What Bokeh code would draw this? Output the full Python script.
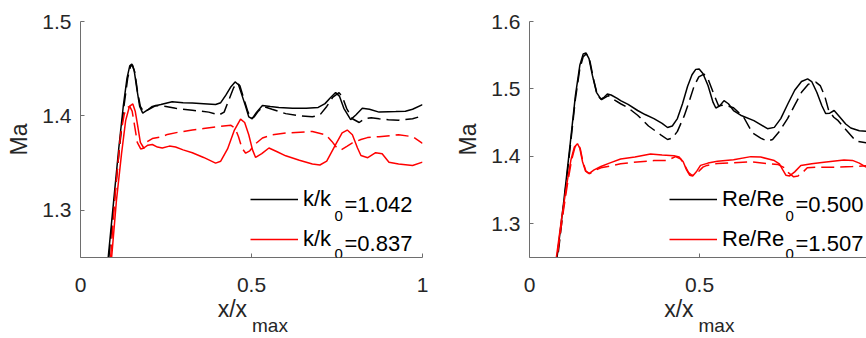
from bokeh.plotting import figure
from bokeh.models import (Range1d, FixedTicker, Legend, LegendItem, Label,
                          CustomJSTickFormatter, LinearAxis)
from bokeh.layouts import row
from bokeh.embed import file_html
from bokeh.resources import INLINE

# ---------------- data ----------------
X_TICKS = [0, 0.5, 1]
X_TICK_LABELS = ["0", "0.5", "1"]
LEFT_Y_TICKS = [1.3, 1.4, 1.5]
LEFT_Y_TICK_LABELS = ["1.3", "1.4", "1.5"]
RIGHT_Y_TICKS = [1.3, 1.4, 1.5, 1.6]
RIGHT_Y_TICK_LABELS = ["1.3", "1.4", "1.5", "1.6"]

LEFT_LEGEND = [("k/k", "0", "=1.042"), ("k/k", "0", "=0.837")]
RIGHT_LEGEND = [("Re/Re", "0", "=0.500"), ("Re/Re", "0", "=1.507")]
X_LABEL = ("x/x", "max")
Y_LABEL = "Ma"

# left panel, k/k0 = 1.042 (black), solid
L_BS_X = [0.075, 0.081, 0.097, 0.112, 0.125, 0.136, 0.144, 0.150, 0.157, 0.165, 0.173, 0.182,
          0.195, 0.21, 0.235, 0.268, 0.30, 0.327, 0.36, 0.395, 0.41, 0.425, 0.44, 0.452, 0.462,
          0.472, 0.483, 0.492, 0.502, 0.515, 0.532, 0.555, 0.58, 0.62, 0.66, 0.695, 0.715, 0.73,
          0.746, 0.757, 0.77, 0.79, 0.805, 0.824, 0.845, 0.873, 0.90, 0.922, 0.95, 0.971, 1.0]
L_BS_Y = [1.23, 1.25, 1.31, 1.366, 1.41, 1.44, 1.453, 1.455, 1.448, 1.428, 1.41, 1.403,
          1.406, 1.41, 1.412, 1.415, 1.414, 1.4137, 1.413, 1.412, 1.414, 1.422, 1.431, 1.436, 1.433,
          1.422, 1.41, 1.399, 1.397, 1.404, 1.411, 1.41, 1.409, 1.408, 1.408, 1.409, 1.413, 1.419,
          1.4247, 1.421, 1.408, 1.396, 1.401, 1.408, 1.407, 1.404, 1.4045, 1.4047, 1.405, 1.407, 1.412]
# left panel, black dashed
L_BD_X = [0.077, 0.083, 0.099, 0.114, 0.127, 0.138, 0.146, 0.152, 0.159, 0.167, 0.175, 0.185,
          0.20, 0.22, 0.25, 0.278, 0.327, 0.375, 0.405, 0.42, 0.435, 0.448, 0.458, 0.466, 0.476,
          0.488, 0.498, 0.508, 0.52, 0.535, 0.56, 0.60, 0.64, 0.678, 0.70, 0.72, 0.738, 0.756,
          0.766, 0.778, 0.795, 0.815, 0.83, 0.85, 0.873, 0.90, 0.93, 0.971, 1.0]
L_BD_Y = [1.23, 1.25, 1.31, 1.366, 1.41, 1.44, 1.452, 1.454, 1.446, 1.425, 1.41, 1.404,
          1.407, 1.411, 1.41, 1.408, 1.406, 1.404, 1.401, 1.404, 1.418, 1.43, 1.435, 1.432, 1.42,
          1.406, 1.397, 1.399, 1.405, 1.41, 1.407, 1.4024, 1.40, 1.399, 1.401, 1.41, 1.42, 1.4247,
          1.42, 1.408, 1.397, 1.393, 1.397, 1.398, 1.397, 1.396, 1.3955, 1.397, 1.40]
# left panel, k/k0 = 0.837 (red), solid
L_RS_X = [0.085, 0.091, 0.105, 0.12, 0.132, 0.143, 0.153, 0.16, 0.167, 0.175, 0.185, 0.197,
          0.21, 0.225, 0.239, 0.26, 0.278, 0.30, 0.327, 0.36, 0.395, 0.41, 0.43, 0.45, 0.468,
          0.48, 0.492, 0.503, 0.512, 0.53, 0.551, 0.575, 0.60, 0.64, 0.678, 0.70, 0.72, 0.745,
          0.765, 0.78, 0.795, 0.81, 0.82, 0.84, 0.863, 0.882, 0.902, 0.93, 0.971, 1.0]
L_RS_Y = [1.23, 1.25, 1.31, 1.36, 1.395, 1.41, 1.4127, 1.405, 1.39, 1.372, 1.366, 1.369,
          1.3697, 1.367, 1.366, 1.368, 1.367, 1.364, 1.361, 1.356, 1.35, 1.352, 1.365, 1.385, 1.3965,
          1.393, 1.38, 1.364, 1.356, 1.36, 1.366, 1.362, 1.3577, 1.353, 1.349, 1.348, 1.352, 1.369,
          1.382, 1.385, 1.38, 1.366, 1.358, 1.3557, 1.361, 1.36, 1.351, 1.349, 1.3474, 1.351]
# left panel, red dashed
L_RD_X = [0.082, 0.088, 0.102, 0.117, 0.128, 0.137, 0.144, 0.151, 0.158, 0.166, 0.176, 0.186,
          0.195, 0.21, 0.239, 0.254, 0.29, 0.327, 0.36, 0.405, 0.44, 0.452, 0.462, 0.472, 0.483,
          0.495, 0.51, 0.532, 0.56, 0.60, 0.678, 0.717, 0.735, 0.75, 0.762, 0.78, 0.795, 0.82,
          0.839, 0.873, 0.93, 0.971, 1.0]
L_RD_Y = [1.23, 1.25, 1.32, 1.38, 1.402, 1.409, 1.41, 1.405, 1.39, 1.372, 1.365, 1.366,
          1.3726, 1.376, 1.378, 1.3804, 1.383, 1.385, 1.3866, 1.3887, 1.39, 1.387, 1.378, 1.366, 1.3605,
          1.363, 1.37, 1.3766, 1.38, 1.3818, 1.3835, 1.38, 1.373, 1.366, 1.364, 1.368, 1.3714, 1.375,
          1.377, 1.378, 1.38, 1.378, 1.371]

# right panel, Re/Re0 = 0.500 (black), solid
R_BS_X = [0.074, 0.081, 0.10, 0.12, 0.135, 0.148, 0.158, 0.166, 0.175, 0.185, 0.197, 0.21,
          0.22, 0.229, 0.24, 0.258, 0.268, 0.29, 0.318, 0.34, 0.366, 0.39, 0.406, 0.42, 0.435,
          0.45, 0.465, 0.478, 0.489, 0.499, 0.51, 0.525, 0.54, 0.548, 0.56, 0.572, 0.585, 0.60,
          0.621, 0.66, 0.70, 0.72, 0.739, 0.76, 0.78, 0.80, 0.818, 0.83, 0.845, 0.86, 0.871,
          0.883, 0.896, 0.91, 0.93, 0.945, 0.97, 1.0]
R_BS_Y = [1.23, 1.25, 1.33, 1.42, 1.49, 1.535, 1.552, 1.5534, 1.545, 1.52, 1.495, 1.485,
          1.488, 1.4924, 1.491, 1.486, 1.4827, 1.477, 1.468, 1.462, 1.456, 1.449, 1.4428, 1.445, 1.456,
          1.478, 1.504, 1.521, 1.529, 1.5294, 1.523, 1.505, 1.48, 1.4717, 1.475, 1.4827, 1.478, 1.468,
          1.461, 1.453, 1.441, 1.443, 1.456, 1.478, 1.498, 1.511, 1.515, 1.511, 1.495, 1.475, 1.4635,
          1.464, 1.468, 1.46, 1.448, 1.442, 1.438, 1.437]
# right panel, black dashed
R_BD_X = [0.076, 0.083, 0.10, 0.12, 0.135, 0.148, 0.158, 0.167, 0.177, 0.188, 0.20, 0.212,
          0.222, 0.232, 0.245, 0.268, 0.29, 0.318, 0.35, 0.386, 0.406, 0.42, 0.435, 0.455, 0.47,
          0.484, 0.498, 0.513, 0.525, 0.54, 0.556, 0.575, 0.60, 0.63, 0.656, 0.68, 0.70, 0.715,
          0.735, 0.759, 0.78, 0.80, 0.82, 0.842, 0.855, 0.868, 0.88, 0.895, 0.906, 0.93, 0.96,
          0.99, 1.0]
R_BD_Y = [1.23, 1.25, 1.325, 1.415, 1.485, 1.53, 1.548, 1.552, 1.543, 1.515, 1.49, 1.484,
          1.487, 1.49, 1.485, 1.478, 1.472, 1.461, 1.445, 1.432, 1.425, 1.427, 1.437, 1.46, 1.482,
          1.504, 1.518, 1.522, 1.515, 1.495, 1.475, 1.476, 1.472, 1.458, 1.4346, 1.427, 1.4226, 1.425,
          1.437, 1.456, 1.476, 1.495, 1.507, 1.51, 1.505, 1.49, 1.468, 1.458, 1.4538, 1.44, 1.4226,
          1.42, 1.42]
# right panel, Re/Re0 = 1.507 (red), solid
R_RS_X = [0.073, 0.079, 0.095, 0.11, 0.122, 0.132, 0.141, 0.148, 0.156, 0.165, 0.175, 0.19,
          0.21, 0.235, 0.268, 0.31, 0.356, 0.39, 0.425, 0.44, 0.452, 0.462, 0.471, 0.48, 0.492,
          0.503, 0.525, 0.553, 0.60, 0.651, 0.68, 0.72, 0.735, 0.745, 0.754, 0.765, 0.78, 0.798,
          0.83, 0.866, 0.925, 0.95, 0.97, 0.99]
R_RS_Y = [1.23, 1.25, 1.31, 1.36, 1.395, 1.414, 1.4188, 1.412, 1.392, 1.378, 1.3745, 1.38,
          1.385, 1.39, 1.396, 1.399, 1.4034, 1.402, 1.401, 1.399, 1.392, 1.38, 1.372, 1.371, 1.378,
          1.3866, 1.39, 1.3928, 1.395, 1.3996, 1.399, 1.3938, 1.389, 1.38, 1.372, 1.371, 1.377, 1.3866,
          1.389, 1.3913, 1.3947, 1.394, 1.39, 1.384]
# right panel, red dashed
R_RD_X = [0.075, 0.081, 0.097, 0.112, 0.124, 0.134, 0.142, 0.149, 0.157, 0.166, 0.177, 0.192,
          0.21, 0.24, 0.268, 0.307, 0.366, 0.405, 0.43, 0.445, 0.458, 0.468, 0.478, 0.487, 0.498,
          0.51, 0.522, 0.553, 0.60, 0.651, 0.699, 0.73, 0.75, 0.763, 0.777, 0.79, 0.805, 0.817,
          0.85, 0.895, 0.95, 0.99]
R_RD_Y = [1.23, 1.25, 1.31, 1.36, 1.395, 1.414, 1.4185, 1.412, 1.392, 1.378, 1.3745, 1.379,
          1.383, 1.386, 1.389, 1.3913, 1.3938, 1.394, 1.3996, 1.396, 1.385, 1.376, 1.372, 1.373, 1.378,
          1.384, 1.3866, 1.3895, 1.3905, 1.392, 1.3894, 1.388, 1.383, 1.375, 1.3697, 1.371, 1.377, 1.383,
          1.384, 1.384, 1.385, 1.386]

# ---------------- style ----------------
FONT = "Liberation Sans"
AXIS_COLOR = "#6e6e6e"
TEXT_COLOR = "#262626"
DASH = "13 6"
LW = 1.5
NBSP = "\u00a0"


def tick_formatter(tick_vals, tick_texts):
    return CustomJSTickFormatter(
        args=dict(tvals=tick_vals, ttexts=tick_texts),
        code="""
        for (let i = 0; i < tvals.length; i++) {
            if (Math.abs(tvals[i] - tick) < 1e-9) { return ttexts[i]; }
        }
        return "";
        """)


def make_panel(width, border_left, border_right, x_end, y_range, y_ticks, y_labels,
               series, legend_texts, legend_x, sub_dx, eq_dx):
    p = figure(width=width, height=338, output_backend="svg", toolbar_location=None,
               x_range=Range1d(0, x_end), y_range=Range1d(*y_range),
               min_border_left=border_left, min_border_right=border_right,
               min_border_top=21, min_border_bottom=75)
    p.background_fill_color = "white"
    p.border_fill_color = "white"
    p.outline_line_color = None
    p.grid.visible = False

    for ax in (p.xaxis[0], p.yaxis[0]):
        ax.axis_line_color = AXIS_COLOR
        ax.axis_line_width = 1
        ax.major_tick_line_color = AXIS_COLOR
        ax.major_tick_in = 4
        ax.major_tick_out = 0
        ax.minor_tick_line_color = None
        ax.major_label_text_font = FONT
        ax.major_label_text_font_size = "21px"
        ax.major_label_text_color = TEXT_COLOR
        ax.axis_label_text_font = FONT
        ax.axis_label_text_font_size = "23px"
        ax.axis_label_text_font_style = "normal"
        ax.axis_label_text_color = TEXT_COLOR

    p.xaxis.ticker = FixedTicker(ticks=X_TICKS)
    p.xaxis.formatter = tick_formatter(X_TICKS, X_TICK_LABELS)
    p.xaxis.major_label_standoff = 20
    p.xaxis.axis_label = X_LABEL[0] + NBSP * 6
    p.xaxis.axis_label_standoff = 1
    p.yaxis.ticker = FixedTicker(ticks=y_ticks)
    p.yaxis.formatter = tick_formatter(y_ticks, y_labels)
    p.yaxis.major_label_standoff = 9
    p.yaxis.axis_label = Y_LABEL
    p.yaxis.axis_label_standoff = 7

    # second, invisible axis carrying the subscript "max" of the x label
    sub_axis = LinearAxis(ticker=FixedTicker(ticks=[]), axis_line_color=None,
                          major_tick_line_color=None, minor_tick_line_color=None,
                          major_label_standoff=0, major_tick_in=0, major_tick_out=0,
                          axis_label=NBSP * 7 + X_LABEL[1], axis_label_standoff=-10,
                          axis_label_text_font=FONT, axis_label_text_font_size="19px",
                          axis_label_text_font_style="normal",
                          axis_label_text_color=TEXT_COLOR)
    p.add_layout(sub_axis, "below")

    renderers = []
    for xs, ys, color, dash in series:
        r = p.line(xs, ys, line_color=color, line_width=LW, line_dash=dash)
        renderers.append(r)

    legend_rows = [(renderers[0], 43, 53, 42), (renderers[2], 3, 14, 4)]
    for (rend, loc_y, eq_y, sub_y), (main, sub, eq) in zip(legend_rows, legend_texts):
        lg = Legend(items=[LegendItem(label=main, renderers=[rend])],
                    location=(legend_x, loc_y), orientation="vertical",
                    padding=0, margin=0, spacing=0,
                    glyph_width=48, glyph_height=30, label_height=30,
                    label_standoff=5, label_text_font=FONT,
                    label_text_font_size="22px", label_text_color="#000000",
                    label_text_baseline="middle",
                    background_fill_alpha=0, border_line_color=None)
        p.add_layout(lg, "center")
        p.add_layout(Label(x=legend_x + sub_dx, y=sub_y, x_units="screen", y_units="screen",
                           text=sub, text_font=FONT, text_font_size="15px",
                           text_color="#000000", text_baseline="alphabetic"))
        p.add_layout(Label(x=legend_x + eq_dx, y=eq_y, x_units="screen", y_units="screen",
                           text=eq, text_font=FONT, text_font_size="22px",
                           text_color="#000000", text_baseline="alphabetic"))
    return p


left_series = [(L_BS_X, L_BS_Y, "black", "solid"), (L_BD_X, L_BD_Y, "black", DASH),
               (L_RS_X, L_RS_Y, "red", "solid"), (L_RD_X, L_RD_Y, "red", DASH)]
right_series = [(R_BS_X, R_BS_Y, "black", "solid"), (R_BD_X, R_BD_Y, "black", DASH),
                (R_RS_X, R_RS_Y, "red", "solid"), (R_RD_X, R_RD_Y, "red", DASH)]

p1 = make_panel(433, 80, 11, 1.0, (1.25, 1.5), LEFT_Y_TICKS, LEFT_Y_TICK_LABELS,
                left_series, LEFT_LEGEND, 170, 84, 94)
p2 = make_panel(433, 96, 0, 337 / 340, (1.25, 1.6), RIGHT_Y_TICKS, RIGHT_Y_TICK_LABELS,
                right_series, RIGHT_LEGEND, 140, 116, 126)

layout = row(p1, p2)
open("out.html", "w").write(file_html(layout, INLINE))
